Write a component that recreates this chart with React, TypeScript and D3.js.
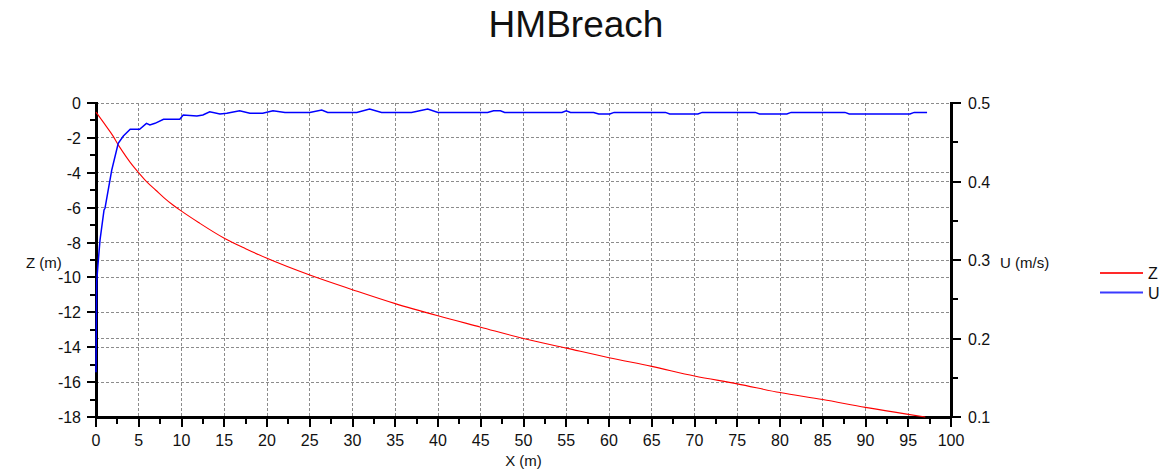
import React from "react";
import * as d3 from "d3";

const TITLE = "HMBreach";
const X_LABEL = "X (m)";
const Z_LABEL = "Z (m)";
const U_LABEL = "U (m/s)";

// Z series (bed level, left axis)
const zX = [0, 1, 2, 2.6, 3, 4, 5, 6, 7, 8, 9, 10, 12, 15, 17.5, 20, 25, 30, 35, 40, 45, 50, 55, 60, 65, 70, 75, 80, 85, 90, 95, 97];
const zValues = [-0.52, -1.2, -1.9, -2.4, -2.7, -3.4, -4.0, -4.55, -5.0, -5.45, -5.85, -6.2, -6.85, -7.75, -8.35, -8.9, -9.86, -10.7, -11.5, -12.2, -12.85, -13.5, -14.05, -14.6, -15.1, -15.65, -16.1, -16.6, -17.0, -17.45, -17.85, -18.0];

// U series (velocity, right axis)
const uX = [0, 0.08, 0.23, 0.47, 0.94, 1.05, 1.84, 2.6, 3.2, 4.0, 5.1, 5.9, 6.3, 6.9, 7.9, 9.8, 10.2, 11.8, 12.5, 13.3, 14.5, 15.3, 16.8, 18, 19.5, 20.7, 22.1, 25, 26.4, 27.1, 30.5, 32, 33.4, 36.9, 38.8, 40, 45.8, 46.5, 47.3, 47.8, 54.5, 55, 55.5, 58.2, 58.8, 60.1, 60.6, 66.6, 67.1, 70.4, 70.9, 77.1, 77.6, 80.8, 81.3, 87.6, 88.1, 95.2, 95.7, 97.2];
const uValues = [0.157, 0.272, 0.294, 0.3255, 0.3637, 0.3659, 0.4146, 0.4487, 0.458, 0.4665, 0.4665, 0.4741, 0.472, 0.4741, 0.4792, 0.4792, 0.4847, 0.4834, 0.4847, 0.4889, 0.486, 0.4869, 0.4902, 0.4869, 0.4869, 0.4902, 0.488, 0.488, 0.491, 0.488, 0.488, 0.4924, 0.488, 0.488, 0.4924, 0.488, 0.488, 0.4902, 0.4902, 0.488, 0.488, 0.4902, 0.488, 0.488, 0.486, 0.486, 0.488, 0.488, 0.486, 0.486, 0.488, 0.488, 0.486, 0.486, 0.488, 0.488, 0.486, 0.486, 0.488, 0.488];

const xTicks = d3.range(0, 101, 5);
const xMinorTicks = d3.range(2.5, 100, 5);
const zTicks = d3.range(-18, 1, 2);
const zMinorTicks = d3.range(-17, 0, 2);
const uTicks = [0.1, 0.2, 0.3, 0.4, 0.5];
const uMinorTicks = [0.15, 0.25, 0.35, 0.45];

const legendItems = [
  { label: "Z", color: "#ff2a2a" },
  { label: "U", color: "#3a3aff" },
];

const W = 1173;
const H = 473;
const M = { left: 96, right: 951, top: 103, bottom: 417 };
const FONT = "'Liberation Sans', Arial, sans-serif";

export default function App() {
  const x = d3.scaleLinear().domain([0, 100]).range([M.left, M.right]);
  const yZ = d3.scaleLinear().domain([-18, 0]).range([M.bottom, M.top]);
  const yU = d3.scaleLinear().domain([0.1, 0.5]).range([M.bottom, M.top]);

  const zLine = d3
    .line<number>()
    .x((_, i) => x(zX[i]))
    .y((d) => yZ(d))
    .curve(d3.curveMonotoneX);
  const uLine = d3
    .line<number>()
    .x((_, i) => x(uX[i]))
    .y((d) => yU(d));

  const gridStyle = { stroke: "#8c8c8c", strokeWidth: 1, strokeDasharray: "3,2" };

  return (
    <svg
      width={W}
      height={H}
      style={{ position: "absolute", left: 0, top: 0, background: "#fff" }}
      fontFamily={FONT}
    >
      <text x={576} y={37} fontSize={37} textAnchor="middle" fill="#111">
        {TITLE}
      </text>

      {/* grid */}
      <g shapeRendering="crispEdges">
        {xTicks
          .filter((t) => t > 0 && t < 100)
          .map((t) => (
            <line key={"gx" + t} x1={x(t)} x2={x(t)} y1={M.top} y2={M.bottom} {...gridStyle} />
          ))}
        {zTicks
          .filter((t) => t > -18)
          .map((t) => (
            <line key={"gz" + t} x1={M.left} x2={M.right} y1={yZ(t)} y2={yZ(t)} {...gridStyle} />
          ))}
        {uTicks
          .filter((t) => t > 0.1 && t < 0.5)
          .map((t) => (
            <line key={"gu" + t} x1={M.left} x2={M.right} y1={yU(t)} y2={yU(t)} {...gridStyle} />
          ))}
      </g>

      {/* axes */}
      <g stroke="#000" shapeRendering="crispEdges">
        <line x1={M.left} x2={M.left} y1={M.top - 1} y2={M.bottom + 1} strokeWidth={3} />
        <line x1={M.right} x2={M.right} y1={M.top - 1} y2={M.bottom + 1} strokeWidth={3} />
        <line x1={M.left - 1} x2={M.right + 1} y1={M.bottom} y2={M.bottom} strokeWidth={3} />
        {xTicks.map((t) => (
          <line key={"tx" + t} x1={x(t)} x2={x(t)} y1={M.bottom} y2={M.bottom + 10} strokeWidth={2} />
        ))}
        {xMinorTicks.map((t) => (
          <line key={"tmx" + t} x1={x(t)} x2={x(t)} y1={M.bottom} y2={M.bottom + 7} strokeWidth={2} />
        ))}
        {zTicks.map((t) => (
          <line key={"tz" + t} x1={M.left - 9} x2={M.left} y1={yZ(t)} y2={yZ(t)} strokeWidth={2} />
        ))}
        {zMinorTicks.map((t) => (
          <line key={"tmz" + t} x1={M.left - 6} x2={M.left} y1={yZ(t)} y2={yZ(t)} strokeWidth={2} />
        ))}
        {uTicks.map((t) => (
          <line key={"tu" + t} x1={M.right} x2={M.right + 10} y1={yU(t)} y2={yU(t)} strokeWidth={2} />
        ))}
        {uMinorTicks.map((t) => (
          <line key={"tmu" + t} x1={M.right} x2={M.right + 7} y1={yU(t)} y2={yU(t)} strokeWidth={2} />
        ))}
      </g>

      {/* series (drawn over the axes, as in the reference) */}
      <path d={zLine(zValues) || ""} fill="none" stroke="#ff0000" strokeWidth={1.1} />
      <path d={uLine(uValues) || ""} fill="none" stroke="#0000ff" strokeWidth={1.5} />

      {/* tick labels */}
      <g fontSize={16} fill="#111">
        {xTicks.map((t) => (
          <text key={"lx" + t} x={x(t)} y={446} textAnchor="middle">
            {t}
          </text>
        ))}
        {zTicks.map((t) => (
          <text key={"lz" + t} x={M.left - 15} y={yZ(t) + 6} textAnchor="end">
            {t}
          </text>
        ))}
        {uTicks.map((t) => (
          <text key={"lu" + t} x={M.right + 17} y={yU(t) + 6} textAnchor="start">
            {d3.format(".1f")(t)}
          </text>
        ))}
      </g>

      {/* axis titles */}
      <g fontSize={15} fill="#111">
        <text x={(M.left + M.right) / 2} y={466} textAnchor="middle">
          {X_LABEL}
        </text>
        <text x={26} y={268}>
          {Z_LABEL}
        </text>
        <text x={1000} y={268}>
          {U_LABEL}
        </text>
      </g>

      {/* legend */}
      <g>
        {legendItems.map((it, i) => (
          <g key={it.label} transform={`translate(0, ${273 + i * 19.5})`}>
            <line x1={1100} x2={1143} y1={0} y2={0} stroke={it.color} strokeWidth={2} />
            <text x={1148} y={6} fontSize={16} fill="#111">
              {it.label}
            </text>
          </g>
        ))}
      </g>
    </svg>
  );
}
